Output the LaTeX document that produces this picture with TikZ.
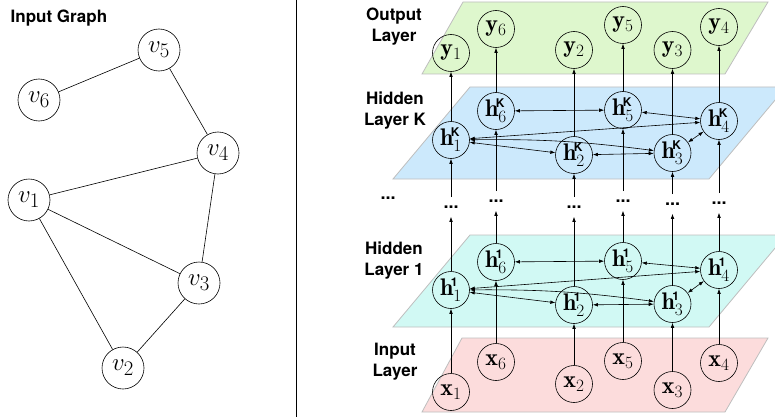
\documentclass[tikz,border=0pt]{standalone}
\usepackage{amsmath}
\usepackage{fontspec}
\newfontfamily\labfont{TeX Gyre Heros}
\usetikzlibrary{arrows.meta}
\definecolor{pgreen}{RGB}{222,247,205}
\definecolor{pblue}{RGB}{204,233,252}
\definecolor{pcyan}{RGB}{209,249,244}
\definecolor{ppink}{RGB}{252,220,220}
\definecolor{planegray}{RGB}{190,190,190}
\newcommand\supK{{\scriptscriptstyle\kern-2.5pt\text{\labfont\bfseries K}}}
\newcommand\supOne{{\scriptscriptstyle\kern-2.5pt\text{\labfont\bfseries 1}}}
\begin{document}
\begin{tikzpicture}[x=1pt,y=-1pt,line width=0.6pt,
  gnode/.style={circle,draw,minimum size=42pt,inner sep=0pt,font=\fontsize{30}{30}\selectfont},
  nnode/.style={circle,draw,minimum size=37pt,inner sep=0pt,font=\fontsize{24}{24}\selectfont},
  lab/.style={font=\labfont\bfseries\fontsize{17}{21}\selectfont,align=center},
  plane/.style={draw=planegray,line width=0.8pt},
  arr/.style={-{Latex[length=5pt,width=3.6pt]}},
  barr/.style={{Latex[length=5pt,width=3.6pt]}-{Latex[length=5pt,width=3.6pt]}},
  dotsbox/.style={font=\labfont\bfseries\fontsize{18}{18}\selectfont,inner sep=0pt,minimum height=19pt}
]
\clip (0,0) rectangle (775,417);
% ---------- left panel ----------
\node[lab,anchor=base west] (title) at (7,23) {Input Graph};
\node[gnode] (v5) at (159,50) {$v_5$};
\node[gnode] (v6) at (39,100) {$v_6$};
\node[gnode] (v4) at (218,153) {$v_4$};
\node[gnode] (v1) at (29,200) {$v_1$};
\node[gnode] (v3) at (199,283) {$v_3$};
\node[gnode] (v2) at (123,368) {$v_2$};
\draw (v5) -- (v6);
\draw (v5) -- (v4);
\draw (v4) -- (v1);
\draw (v4) -- (v3);
\draw (v1) -- (v3);
\draw (v1) -- (v2);
\draw (v2) -- (v3);
% separator
\coordinate (sepT) at (296,0);
\coordinate (sepB) at (296,417);
\draw[line width=0.8pt] (sepT) -- (sepB);
% ---------- planes ----------
\filldraw[plane,fill=pgreen] (463,2) -- (768,2) -- (725,74) -- (422,74) -- cycle;
\filldraw[plane,fill=pblue] (470,87) -- (786,87) -- (709,179) -- (393,179) -- cycle;
\filldraw[plane,fill=pcyan] (470,235) -- (786,235) -- (709,327) -- (393,327) -- cycle;
\filldraw[plane,fill=ppink] (462,338) -- (768,338) -- (725,412) -- (422,412) -- cycle;
% ---------- labels ----------
\node[lab] (lout) at (394,27) {Output\\Layer};
\node[lab] (lhk) at (395,111) {Hidden\\Layer K};
\node[lab] (lh1) at (394,261) {Hidden\\Layer 1};
\node[lab] (lin) at (395,362) {Input\\Layer};
\node[dotsbox] (ldots) at (388,198) {...};
% ---------- output ----------
\node[nnode] (y1) at (451,53) {$\mathbf{y}_1$};
\node[nnode] (y6) at (496,29) {$\mathbf{y}_6$};
\node[nnode] (y2) at (574,50) {$\mathbf{y}_2$};
\node[nnode] (y5) at (623,25) {$\mathbf{y}_5$};
\node[nnode] (y3) at (672.5,50) {$\mathbf{y}_3$};
\node[nnode] (y4) at (719,27) {$\mathbf{y}_4$};
% ---------- hidden K ----------
\node[nnode] (k1) at (451,140) {$\mathbf{h}^{\supK}_1$};
\node[nnode] (k6) at (496,111) {$\mathbf{h}^{\supK}_6$};
\node[nnode] (k2) at (574,155) {$\mathbf{h}^{\supK}_2$};
\node[nnode] (k5) at (623,110) {$\mathbf{h}^{\supK}_5$};
\node[nnode] (k3) at (672.5,153) {$\mathbf{h}^{\supK}_3$};
\node[nnode] (k4) at (719,121) {$\mathbf{h}^{\supK}_4$};
% ---------- hidden 1 ----------
\node[nnode] (a1) at (451,290) {$\mathbf{h}^{\supOne}_1$};
\node[nnode] (a6) at (496,262) {$\mathbf{h}^{\supOne}_6$};
\node[nnode] (a2) at (574,305) {$\mathbf{h}^{\supOne}_2$};
\node[nnode] (a5) at (623,261) {$\mathbf{h}^{\supOne}_5$};
\node[nnode] (a3) at (672.5,304) {$\mathbf{h}^{\supOne}_3$};
\node[nnode] (a4) at (719,270) {$\mathbf{h}^{\supOne}_4$};
% ---------- input ----------
\node[nnode] (x1) at (451,392) {$\mathbf{x}_1$};
\node[nnode] (x6) at (496,362) {$\mathbf{x}_6$};
\node[nnode] (x2) at (574,384) {$\mathbf{x}_2$};
\node[nnode] (x5) at (623,361) {$\mathbf{x}_5$};
\node[nnode] (x3) at (672.5,390) {$\mathbf{x}_3$};
\node[nnode] (x4) at (719,363) {$\mathbf{x}_4$};
% ---------- dots ----------
\node[dotsbox] (d1) at (451,207) {...};
\node[dotsbox] (d6) at (496,201) {...};
\node[dotsbox] (d2) at (574,207) {...};
\node[dotsbox] (d5) at (623,201) {...};
\node[dotsbox] (d3) at (672.5,204) {...};
\node[dotsbox] (d4) at (719,203) {...};
% ---------- vertical arrows ----------
\foreach \i in {1,...,6}{
  \draw[arr] (x\i) -- (a\i);
  \draw[arr] (a\i) -- (d\i);
  \draw[arr] (d\i) -- (k\i);
  \draw[arr] (k\i) -- (y\i);
}
% ---------- intra-layer edges ----------
\foreach \L in {a,k}{
  \draw[barr] (\L1) -- (\L4);
  \draw[barr] (\L1) to[bend left=4] (\L3);
  \draw[barr] (\L1) -- (\L2);
  \draw[barr] (\L2) -- (\L3);
  \draw[barr] (\L3) -- (\L4);
  \draw[barr] (\L4) -- (\L5);
  \draw[barr] (\L5) -- (\L6);
}
\end{tikzpicture}
\end{document}
